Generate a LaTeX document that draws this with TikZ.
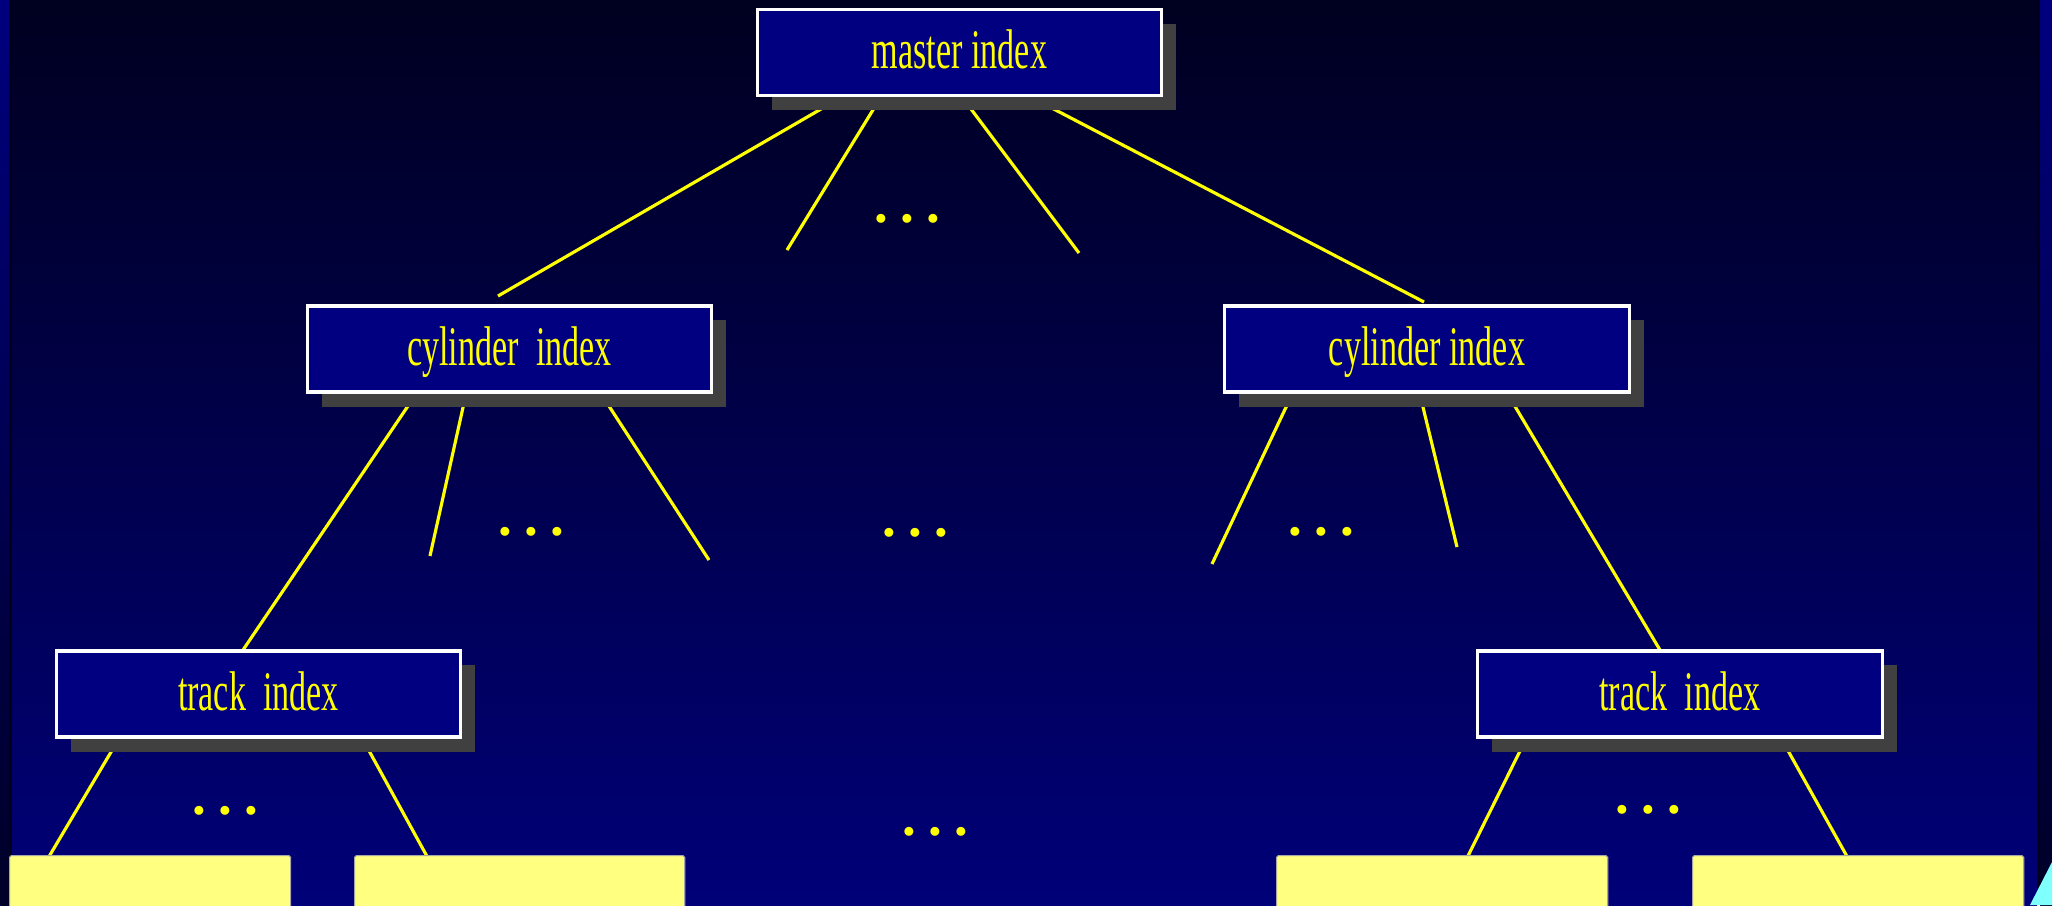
\documentclass[tikz,border=0pt]{standalone}
\usepackage{fontspec}
\setmainfont{Liberation Serif}
\newfontfamily\condfont[FakeStretch=0.61]{Liberation Serif}
\newfontfamily\dotfont{Liberation Serif}
\usetikzlibrary{shadows}

\definecolor{bgtop}{HTML}{000020}
\definecolor{bgbot}{HTML}{000078}
\definecolor{striptop}{HTML}{00007E}
\definecolor{stripbot}{HTML}{000028}
\definecolor{edgeline}{HTML}{000018}
\definecolor{boxblue}{HTML}{000080}
\definecolor{shadowgray}{HTML}{404040}
\definecolor{textyellow}{HTML}{FFFF00}
\definecolor{leafyellow}{HTML}{FFFF80}
\definecolor{cornercyan}{HTML}{80FFFF}

\begin{document}
\begin{tikzpicture}[x=0.01cm,y=-0.01cm,
  indexbox/.style={draw=white, line width=0.9pt, fill=boxblue,
    minimum width=4.04cm, minimum height=0.86cm, inner sep=0pt,
    text height=0.32cm, text depth=0cm, text=textyellow,
    font=\condfont\fontsize{15.9pt}{18pt}\selectfont,
    general shadow={fill=shadowgray, shadow xshift=0.145cm, shadow yshift=-0.145cm}},
  leafbox/.style={fill=leafyellow, draw=gray!70, line width=0.3pt,
    rounded corners=0.5pt, inner sep=0pt, anchor=north west},
  link/.style={draw=textyellow, line width=0.9pt},
  ellip/.style={text=textyellow, inner sep=0pt,
    font=\dotfont\bfseries\fontsize{15.6pt}{18pt}\selectfont}]

\useasboundingbox (0,0) rectangle (2056,905);

% slide background with side strips
\shade[top color=striptop, bottom color=stripbot] (0,0) rectangle (9,905);
\fill[edgeline] (9,0) rectangle (12,905);
\shade[top color=bgtop, bottom color=bgbot] (12,0) rectangle (2037,905);
\fill[edgeline] (2037,0) rectangle (2040,905);
\shade[top color=striptop, bottom color=stripbot] (2040,0) rectangle (2052,905);
\fill[white] (2052,0) rectangle (2056,905);
\fill[cornercyan] (2030,905) -- (2052,862) -- (2052,905) -- cycle;

% line end points
\coordinate (m1) at (828,105);  \coordinate (m1e) at (498,296);
\coordinate (m2) at (876,105);  \coordinate (m2e) at (787,250);
\coordinate (m3) at (968,105);  \coordinate (m3e) at (1079,253);
\coordinate (m4) at (1046,105); \coordinate (m4e) at (1424,302);
\coordinate (cl1) at (410,403); \coordinate (cl1e) at (243,650);
\coordinate (cl2) at (464,403); \coordinate (cl2e) at (430,556);
\coordinate (cl3) at (607,403); \coordinate (cl3e) at (709,560);
\coordinate (cr1) at (1288,403); \coordinate (cr1e) at (1212,564);
\coordinate (cr2) at (1422,403); \coordinate (cr2e) at (1457,547);
\coordinate (cr3) at (1513,403); \coordinate (cr3e) at (1660,650);
\coordinate (tl1) at (114,747); \coordinate (tl1e) at (47,860);
\coordinate (tl2) at (367,747); \coordinate (tl2e) at (429,860);
\coordinate (tr1) at (1522,747); \coordinate (tr1e) at (1466,860);
\coordinate (tr2) at (1786,747); \coordinate (tr2e) at (1849,860);

% connectors
\draw[link] (m1) -- (m1e);
\draw[link] (m2) -- (m2e);
\draw[link] (m3) -- (m3e);
\draw[link] (m4) -- (m4e);
\draw[link] (cl1) -- (cl1e);
\draw[link] (cl2) -- (cl2e);
\draw[link] (cl3) -- (cl3e);
\draw[link] (cr1) -- (cr1e);
\draw[link] (cr2) -- (cr2e);
\draw[link] (cr3) -- (cr3e);
\draw[link] (tl1) -- (tl1e);
\draw[link] (tl2) -- (tl2e);
\draw[link] (tr1) -- (tr1e);
\draw[link] (tr2) -- (tr2e);

% index boxes
\node[indexbox] (master) at (959.5,52.5) {master index};
\node[indexbox] (cylL) at (509.5,349) {cylinder~~index};
\node[indexbox] (cylR) at (1427,349) {cylinder index};
\node[indexbox] (trackL) at (258.5,694) {track~~index};
\node[indexbox] (trackR) at (1680,694) {track~~index};

% data blocks at the bottom
\node[leafbox, minimum width=2.81cm, minimum height=0.6cm] (leaf1) at (9,855) {};
\node[leafbox, minimum width=3.30cm, minimum height=0.6cm] (leaf2) at (354,855) {};
\node[leafbox, minimum width=3.31cm, minimum height=0.6cm] (leaf3) at (1276,855) {};
\node[leafbox, minimum width=3.31cm, minimum height=0.6cm] (leaf4) at (1692,855) {};

% ellipses
\node[ellip] (e1) at (907,219) {.\hspace{0.122cm}.\hspace{0.122cm}.};
\node[ellip] (e2) at (531,532) {.\hspace{0.122cm}.\hspace{0.122cm}.};
\node[ellip] (e3) at (915,533) {.\hspace{0.122cm}.\hspace{0.122cm}.};
\node[ellip] (e4) at (1321,532) {.\hspace{0.122cm}.\hspace{0.122cm}.};
\node[ellip] (e5) at (935,832) {.\hspace{0.122cm}.\hspace{0.122cm}.};
\node[ellip] (e6) at (225,811) {.\hspace{0.122cm}.\hspace{0.122cm}.};
\node[ellip] (e7) at (1648,810) {.\hspace{0.122cm}.\hspace{0.122cm}.};
\end{tikzpicture}
\end{document}
